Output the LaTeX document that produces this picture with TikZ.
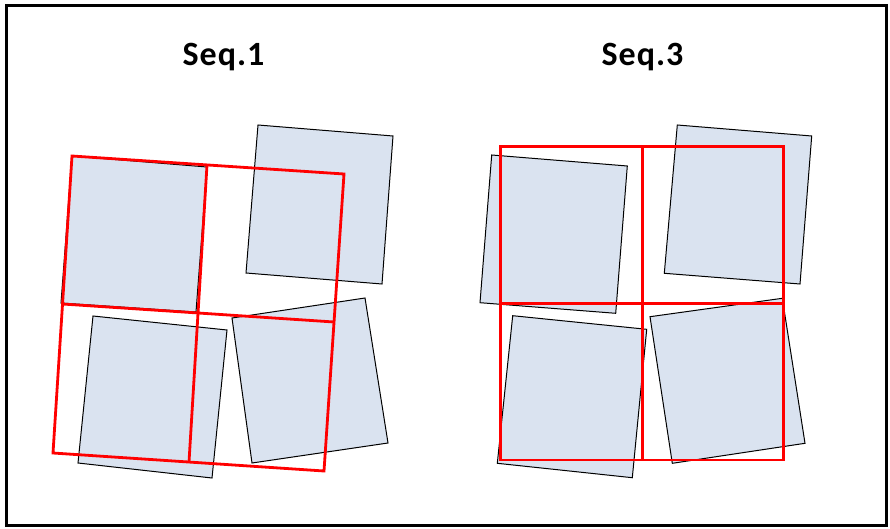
\documentclass[tikz,border=0pt]{standalone}
\usepackage{fontspec}
\setmainfont{Carlito}[LetterSpace=3]
\definecolor{tilefill}{HTML}{DAE3F0}
\definecolor{gridred}{HTML}{FF0000}
\tikzset{
  tile/.style={draw=black, fill=tilefill, line width=1pt, line join=miter},
  grid/.style={draw=gridred, line width=2.8pt, line join=miter},
  frame/.style={draw=black, line width=3pt},
  title/.style={font=\fontsize{34}{40}\selectfont\bfseries, anchor=base}
}
\begin{document}
\begin{tikzpicture}[x=1pt,y=-1pt]
\useasboundingbox (0,0) rectangle (890,529);
\draw[frame] (6.5,5.5) rectangle (886.5,525.5);

\node[title] (t1) at (223.5,66) {Seq.1};
\node[title] (t3) at (642.5,66) {Seq.3};

% ---- Seq.1 tiles
\draw[tile] (72,156) -- (207,167) -- (196,312) -- (61,303) -- cycle;
\draw[tile] (258,125) -- (393,136) -- (382,284) -- (246,273) -- cycle;
\draw[tile] (93,316) -- (227,330) -- (212,478) -- (78,463) -- cycle;
\draw[tile] (232,318) -- (365,298) -- (388,443) -- (252,463) -- cycle;

% ---- Seq.1 grid
\coordinate (a1) at (72,156);
\coordinate (a2) at (344,174);
\coordinate (a3) at (324,471);
\coordinate (a4) at (53,453);
\coordinate (am) at (207,165);
\coordinate (ab) at (189,462);
\coordinate (al) at (62.5,304);
\coordinate (ar) at (334,322);
\draw[grid] (a1) -- (a2) -- (a3) -- (a4) -- cycle;
\draw[grid] (am) -- (ab);
\draw[grid] (al) -- (ar);

% ---- Seq.3 tiles
\draw[tile] (491.7,155) -- (627.3,166) -- (615.7,313.3) -- (480,302.7) -- cycle;
\draw[tile] (677.3,125) -- (811.7,136) -- (800,284) -- (664.3,273.3) -- cycle;
\draw[tile] (512.7,315.7) -- (646.7,329.3) -- (632.3,477.7) -- (497.3,463.3) -- cycle;
\draw[tile] (650,316.7) -- (782.3,298.3) -- (805,443.3) -- (672.3,463.3) -- cycle;

% ---- Seq.3 grid
\coordinate (b1) at (500.7,146.7);
\coordinate (b3) at (783.3,460);
\coordinate (bt) at (642.3,146.7);
\coordinate (bb) at (642.3,460);
\coordinate (bl) at (500.7,303.3);
\coordinate (br) at (783.3,303.3);
\draw[grid] (b1) rectangle (b3);
\draw[grid] (bt) -- (bb);
\draw[grid] (bl) -- (br);
\end{tikzpicture}
\end{document}
